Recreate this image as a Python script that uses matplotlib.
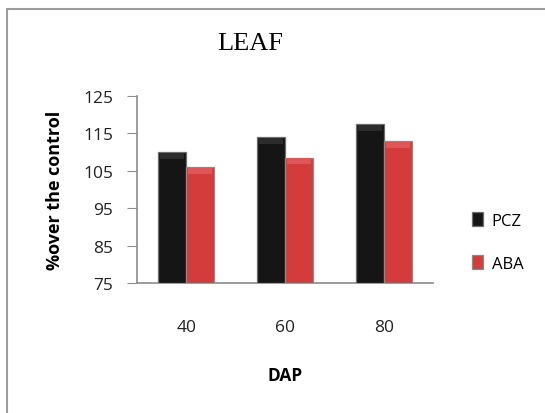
import matplotlib.pyplot as plt
import numpy as np
from matplotlib.patches import Rectangle

# data
dap = ["40", "60", "80"]
pcz = [110, 114, 117.5]
aba = [106, 108.5, 113]
yticks = [75, 85, 95, 105, 115, 125]

fig = plt.figure(figsize=(5.45, 4.14), dpi=100)

# chart frame (cut off on the right and bottom)
frame = Rectangle((7 / 545, -0.05), 1.0, (414 - 10) / 414 + 0.05, transform=fig.transFigure,
                  fill=False, edgecolor="#9a9a9a", linewidth=1.5)
fig.patches.append(frame)

ax = fig.add_axes([137 / 545, (414 - 284) / 414, 296 / 545, 187 / 414])

x = np.arange(len(dap))
w = 0.285
ax.bar(x - w / 2, [v - 75 for v in pcz], w, bottom=75, color="#151515",
       edgecolor="#6e6e6e", linewidth=0.9, label="PCZ", zorder=3)
ax.bar(x + w / 2, [v - 75 for v in aba], w, bottom=75, color="#d43c3c",
       edgecolor="#8a8a8a", linewidth=0.9, label="ABA", zorder=3)

# soft bevel just under each bar top
ax.bar(x - w / 2, 1.6, w * 0.86, bottom=[v - 1.8 for v in pcz], color="#2c2c2c",
       linewidth=0, zorder=4)
ax.bar(x + w / 2, 1.6, w * 0.86, bottom=[v - 1.8 for v in aba], color="#de5656",
       linewidth=0, zorder=4)

ax.set_xlim(-0.5, len(dap) - 0.5)
ax.set_ylim(75, 125)
ax.set_yticks(yticks)
ax.set_xticks(x)
ax.set_xticklabels(dap)

font = "Open Sans"
for lab in ax.get_yticklabels() + ax.get_xticklabels():
    lab.set_fontfamily(font)
    lab.set_fontsize(12.5)
    lab.set_color("#222222")

ax.tick_params(axis="y", direction="out", length=7, color="#8c8c8c", pad=10)
ax.tick_params(axis="x", length=0, pad=26)

for side in ["top", "right"]:
    ax.spines[side].set_visible(False)
for side in ["left", "bottom"]:
    ax.spines[side].set_color("#8c8c8c")
    ax.spines[side].set_linewidth(1.2)

ax.set_xlabel("DAP", fontfamily=font, fontweight="bold", fontsize=12.5, labelpad=22)
ax.set_ylabel("%over the control", fontfamily=font, fontweight="bold", fontsize=13,
              labelpad=14)

fig.text(250 / 545, 1 - 44 / 414, "LEAF", ha="center", va="center",
         fontfamily="Liberation Serif", fontsize=19)

leg = ax.legend(loc="center left", bbox_to_anchor=(1.08, 0.22), frameon=False,
                prop={"family": font, "size": 12}, handlelength=0.7, handleheight=0.9,
                labelspacing=1.6, handletextpad=0.5)

fig.savefig("out.png", dpi=100)
